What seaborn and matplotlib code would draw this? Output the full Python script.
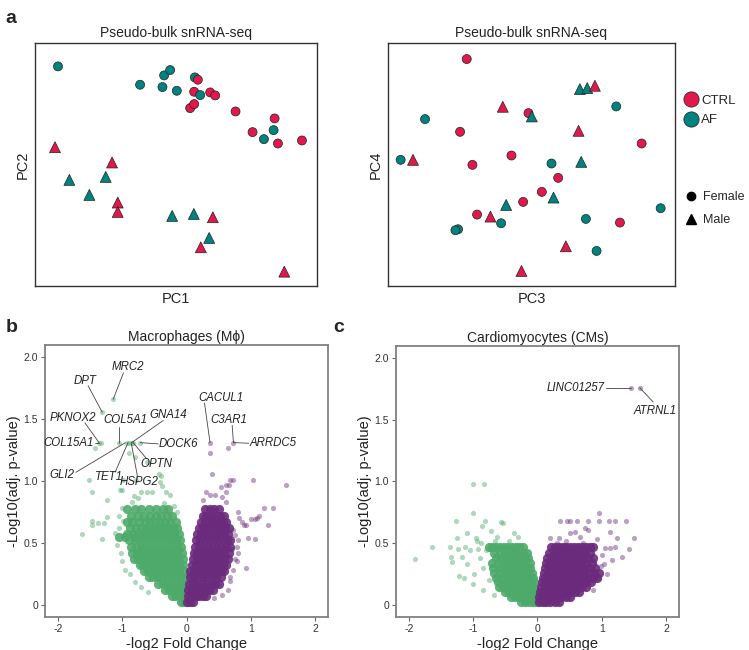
import numpy as np
import pandas as pd
import matplotlib
matplotlib.use("Agg")
import matplotlib.pyplot as plt
from matplotlib.lines import Line2D
import seaborn as sns

# ---------------- PCA data (pseudo-bulk) ----------------
pc1 = [-35.4, -10.8, -4.1, -3.6, -1.8, 0.2, 5.6, 6.5, 5.4, 7.2, 10.2, 11.7, 4.2, 5.4, 17.8, 29.5, 29.2, 22.9, 26.3, 30.5, 37.7,
       -36.3, -19.2, -32.0, -21.1, -26.0, -17.5, -17.5, -1.2, 5.3, 11.0, 9.9, 7.4, 32.4]
pc2 = [29.4, 23.9, 23.2, 26.7, 28.3, 22.1, 26.1, 25.4, 21.8, 20.8, 21.6, 20.7, 16.9, 18.1, 15.9, 13.8, 10.3, 9.7, 7.6, 6.3, 7.2,
       5.2, 0.6, -4.6, -3.7, -9.1, -11.4, -14.2, -15.4, -14.8, -15.8, -22.0, -24.8, -32.1]
group_12 = ["AF", "AF", "AF", "AF", "AF", "AF", "AF", "CTRL", "CTRL", "AF", "CTRL", "CTRL", "CTRL", "CTRL", "CTRL", "CTRL", "AF",
            "CTRL", "AF", "CTRL", "CTRL",
            "CTRL", "CTRL", "AF", "AF", "AF", "CTRL", "CTRL", "AF", "AF", "CTRL", "AF", "CTRL", "CTRL"]
sex_12 = ["Female"] * 21 + ["Male"] * 13

pc3 = [-19.4, 25.4, -0.9, -31.9, -21.4, 33.0, -6.0, -39.2, -17.7, 6.0, 8.0, 3.1, -2.5, 38.7, -16.3, 16.3, -9.1, 26.5, -22.0, -22.8, 19.5,
       14.5, 16.7, 19.0, -8.6, 0.1, 14.1, -35.5, 14.9, 6.6, -7.6, -12.3, 10.3, -3.0]
pc4 = [31.6, 17.4, 15.4, 13.6, 9.8, 6.3, 2.7, 1.4, -0.1, 0.3, -4.0, -8.2, -11.2, -13.1, -15.0, -16.3, -17.6, -17.4, -19.4, -19.7, -25.9,
       22.6, 22.9, 23.6, 17.3, 14.4, 10.1, 1.4, 0.8, -9.9, -12.1, -15.6, -24.5, -31.9]
group_34 = ["CTRL", "AF", "CTRL", "AF", "CTRL", "CTRL", "CTRL", "AF", "CTRL", "AF", "CTRL", "CTRL", "CTRL", "AF", "CTRL", "AF", "AF",
            "CTRL", "AF", "AF", "AF",
            "AF", "AF", "CTRL", "CTRL", "AF", "CTRL", "CTRL", "AF", "AF", "AF", "CTRL", "CTRL", "CTRL"]
sex_34 = ["Female"] * 21 + ["Male"] * 13

# ---------------- Volcano data ----------------
# dense cores: (adj p level, [log2FC values])
mac_down_core = [
    (0.02, [-0.01, -0.05, -0.09]),
    (0.07, [-0.02, -0.07, -0.12, -0.18, -0.23]),
    (0.12, [-0.02, -0.08, -0.14, -0.20, -0.27, -0.34]),
    (0.17, [-0.03, -0.09, -0.16, -0.23, -0.30, -0.37, -0.45]),
    (0.22, [-0.03, -0.10, -0.17, -0.24, -0.31, -0.38, -0.45, -0.52, -0.59]),
    (0.27, [-0.04, -0.11, -0.18, -0.25, -0.32, -0.39, -0.46, -0.53, -0.60, -0.66]),
    (0.32, [-0.05, -0.12, -0.19, -0.26, -0.33, -0.40, -0.47, -0.54, -0.61, -0.68, -0.73]),
    (0.37, [-0.06, -0.13, -0.20, -0.27, -0.34, -0.41, -0.48, -0.55, -0.62, -0.69, -0.76, -0.81]),
    (0.42, [-0.07, -0.14, -0.21, -0.28, -0.35, -0.42, -0.49, -0.56, -0.63, -0.70, -0.77, -0.85]),
    (0.47, [-0.08, -0.15, -0.22, -0.29, -0.36, -0.43, -0.50, -0.57, -0.64, -0.71, -0.78, -0.86]),
    (0.52, [-0.10, -0.17, -0.24, -0.31, -0.38, -0.45, -0.52, -0.59, -0.66, -0.73, -0.80, -0.89]),
    (0.55, [-0.20, -0.35, -0.50, -0.65, -0.80, -0.95, -1.05]),
    (0.57, [-0.12, -0.19, -0.26, -0.33, -0.40, -0.47, -0.54, -0.61, -0.68, -0.75, -0.83, -0.92]),
    (0.62, [-0.14, -0.21, -0.28, -0.35, -0.42, -0.49, -0.56, -0.63, -0.71, -0.79, -0.88]),
    (0.67, [-0.17, -0.25, -0.33, -0.41, -0.49, -0.57, -0.65, -0.74, -0.84, -0.93]),
    (0.72, [-0.22, -0.30, -0.39, -0.47, -0.56, -0.66, -0.75, -0.86]),
    (0.77, [-0.28, -0.37, -0.48, -0.58, -0.70, -0.80, -0.92]),
]
mac_up_core = [
    (0.02, [0.01, 0.05, 0.10]),
    (0.07, [0.02, 0.08, 0.14, 0.20, 0.26, 0.31]),
    (0.12, [0.03, 0.09, 0.15, 0.22, 0.29, 0.35, 0.41]),
    (0.17, [0.04, 0.10, 0.17, 0.24, 0.31, 0.38, 0.45, 0.50]),
    (0.22, [0.05, 0.11, 0.18, 0.25, 0.32, 0.39, 0.46, 0.53]),
    (0.27, [0.06, 0.12, 0.19, 0.26, 0.33, 0.40, 0.47, 0.54, 0.59]),
    (0.32, [0.08, 0.14, 0.21, 0.28, 0.35, 0.42, 0.49, 0.56, 0.62]),
    (0.37, [0.10, 0.16, 0.23, 0.30, 0.37, 0.44, 0.51, 0.58, 0.64]),
    (0.42, [0.11, 0.17, 0.24, 0.31, 0.38, 0.45, 0.52, 0.59, 0.66]),
    (0.47, [0.13, 0.19, 0.26, 0.33, 0.40, 0.47, 0.54, 0.61, 0.67]),
    (0.52, [0.15, 0.21, 0.28, 0.35, 0.42, 0.49, 0.56, 0.63, 0.68]),
    (0.57, [0.17, 0.23, 0.30, 0.37, 0.44, 0.51, 0.58, 0.65]),
    (0.62, [0.19, 0.25, 0.32, 0.39, 0.46, 0.53, 0.60, 0.66]),
    (0.67, [0.22, 0.28, 0.35, 0.42, 0.49, 0.56, 0.62]),
    (0.72, [0.25, 0.31, 0.38, 0.45, 0.52, 0.58]),
    (0.77, [0.29, 0.36, 0.43, 0.50]),
]
cm_down_core = [
    (0.02, [-0.02, -0.07, -0.13, -0.19, -0.25]),
    (0.06, [-0.03, -0.09, -0.15, -0.21, -0.28, -0.35, -0.41]),
    (0.10, [-0.04, -0.10, -0.16, -0.23, -0.30, -0.37, -0.44, -0.51]),
    (0.14, [-0.05, -0.11, -0.18, -0.25, -0.32, -0.39, -0.46, -0.53, -0.60]),
    (0.18, [-0.06, -0.12, -0.19, -0.26, -0.33, -0.40, -0.47, -0.54, -0.62]),
    (0.22, [-0.07, -0.14, -0.21, -0.28, -0.35, -0.42, -0.49, -0.56, -0.64]),
    (0.26, [-0.09, -0.16, -0.23, -0.30, -0.37, -0.44, -0.51, -0.58, -0.67]),
    (0.30, [-0.11, -0.18, -0.25, -0.32, -0.39, -0.46, -0.53, -0.60, -0.69]),
    (0.34, [-0.12, -0.19, -0.26, -0.33, -0.40, -0.47, -0.54, -0.62, -0.70]),
    (0.38, [-0.14, -0.21, -0.28, -0.35, -0.42, -0.49, -0.56, -0.64]),
    (0.42, [-0.16, -0.23, -0.30, -0.37, -0.44, -0.51, -0.59, -0.68]),
    (0.47, [-0.22, -0.28, -0.34, -0.40, -0.46, -0.52, -0.58, -0.64, -0.70, -0.76]),
]
cm_up_core = [
    (0.02, [0.02, 0.08, 0.14, 0.20, 0.27, 0.34]),
    (0.06, [0.03, 0.09, 0.16, 0.23, 0.30, 0.37, 0.44, 0.51]),
    (0.10, [0.04, 0.10, 0.17, 0.24, 0.31, 0.38, 0.45, 0.52, 0.59, 0.65]),
    (0.14, [0.06, 0.12, 0.19, 0.26, 0.33, 0.40, 0.47, 0.54, 0.61, 0.68, 0.75]),
    (0.18, [0.07, 0.13, 0.20, 0.27, 0.34, 0.41, 0.48, 0.55, 0.62, 0.69, 0.76, 0.83]),
    (0.22, [0.08, 0.15, 0.22, 0.29, 0.36, 0.43, 0.50, 0.57, 0.64, 0.71, 0.78, 0.86, 0.93]),
    (0.26, [0.10, 0.17, 0.24, 0.31, 0.38, 0.45, 0.52, 0.59, 0.66, 0.73, 0.80, 0.88, 0.96]),
    (0.30, [0.11, 0.18, 0.25, 0.32, 0.39, 0.46, 0.53, 0.60, 0.67, 0.74, 0.82, 0.90]),
    (0.34, [0.13, 0.20, 0.27, 0.34, 0.41, 0.48, 0.55, 0.62, 0.69, 0.76, 0.84]),
    (0.38, [0.15, 0.22, 0.29, 0.36, 0.43, 0.50, 0.57, 0.64, 0.71, 0.78, 0.86]),
    (0.42, [0.18, 0.25, 0.32, 0.39, 0.46, 0.53, 0.60, 0.67, 0.74, 0.81]),
    (0.47, [0.21, 0.27, 0.33, 0.39, 0.45, 0.51, 0.57, 0.63, 0.69, 0.75, 0.81, 0.86]),
]

# scattered genes outside the cores
mac_down_fc = [-1.14, -1.31, -1.36, -1.33, -1.42, -1.045, -0.93, -0.895, -0.853, -0.83, -0.72, -0.895, -0.80, -0.61,
               -0.42, -0.40, -1.51, -0.98, -0.78, -0.41, -0.38, -1.47, -1.24, -1.035, -1.01, -0.70, -0.61, -0.54, -0.32,
               -0.26, -0.82, -0.85, -0.76, -1.62, -1.47, -1.47, -1.37, -1.29, -1.31, -1.24, -1.11, -1.05, -1.08, -1.02,
               -1.00, -0.95, -0.88, -0.80, -0.70, -0.60, -1.00, -1.05, -0.98, -0.35, -0.20, -0.15]
mac_down_p = [1.66, 1.555, 1.31, 1.31, 1.27, 1.31, 1.31, 1.31, 1.31, 1.31, 1.31, 1.23, 1.19, 1.15,
              1.06, 1.04, 1.01, 1.01, 1.01, 0.99, 0.96, 0.91, 0.85, 0.93, 0.93, 0.91, 0.91, 0.91, 0.91,
              0.89, 0.88, 0.83, 0.86, 0.57, 0.68, 0.64, 0.66, 0.66, 0.53, 0.71, 0.58, 0.62, 0.48, 0.42,
              0.35, 0.28, 0.25, 0.18, 0.14, 0.10, 0.78, 0.72, 0.68, 0.82, 0.80, 0.75]
mac_up_fc = [0.366, 0.366, 0.73, 0.65, 0.39, 0.67, 0.72, 1.03, 1.55, 0.62, 0.66, 0.53, 0.31, 0.37, 0.44, 0.61, 0.26,
             0.55, 0.62, 1.35, 1.21, 1.12, 1.01, 1.07, 1.10, 1.26, 0.80, 0.82, 0.86, 0.90, 0.93, 0.95, 1.07, 0.80,
             0.78, 0.80, 0.76, 0.78, 0.93, 0.68, 0.68, 0.42, 0.72, 0.75, 0.70, 0.72, 0.64, 0.55]
mac_up_p = [1.31, 1.23, 1.31, 1.27, 1.06, 1.01, 1.01, 1.01, 0.97, 0.97, 0.97, 0.95, 0.91, 0.89, 0.89, 0.91, 0.85,
            0.87, 0.83, 0.78, 0.78, 0.72, 0.69, 0.69, 0.70, 0.64, 0.75, 0.70, 0.67, 0.64, 0.64, 0.54, 0.53, 0.52,
            0.47, 0.42, 0.37, 0.35, 0.30, 0.22, 0.19, 0.05, 0.60, 0.56, 0.45, 0.28, 0.12, 0.08]
cm_down_fc = [-1.01, -0.83, -1.01, -1.26, -0.82, -1.90, -1.64, -1.36, -1.24, -1.09, -0.96, -0.94, -0.56, -0.53, -0.36,
              -0.63, -1.25, -1.35, -1.33, -1.18, -1.22, -1.15, -1.00, -0.90, -0.85, -0.80, -0.92, -1.05, -0.75, -0.72,
              -0.66, -0.45, -0.30, -0.85, -0.68, -1.10, -0.98, -1.12, -0.88, -0.86]
cm_down_p = [0.976, 0.976, 0.74, 0.68, 0.68, 0.37, 0.47, 0.47, 0.45, 0.58, 0.54, 0.52, 0.67, 0.66, 0.58,
             0.55, 0.54, 0.39, 0.35, 0.39, 0.23, 0.22, 0.17, 0.38, 0.30, 0.44, 0.45, 0.44, 0.20, 0.60,
             0.52, 0.52, 0.55, 0.12, 0.08, 0.33, 0.25, 0.47, 0.50, 0.64]
cm_up_fc = [1.46, 1.59, 0.35, 0.46, 0.51, 0.61, 0.79, 0.95, 1.11, 1.21, 1.37, 0.95, 0.51, 0.59, 0.20, 0.33, 0.74, 0.78,
            1.13, 1.24, 1.50, 1.42, 1.31, 1.16, 1.03, 0.98, 1.05, 1.12, 1.20, 0.86, 0.92, 0.66, 0.45, 1.00, 0.95, 1.08,
            0.30, 0.70]
cm_up_p = [1.76, 1.76, 0.68, 0.68, 0.68, 0.68, 0.68, 0.68, 0.68, 0.68, 0.68, 0.74, 0.58, 0.59, 0.54, 0.54, 0.62, 0.61,
           0.59, 0.54, 0.54, 0.45, 0.39, 0.36, 0.33, 0.31, 0.46, 0.46, 0.47, 0.12, 0.53, 0.55, 0.52, 0.40, 0.22, 0.25,
           0.50, 0.50]

# labelled genes: name, gene point, text position, alignment
mac_labels = [
    ("MRC2", (-1.14, 1.66), (-0.905, 1.92), "center"),
    ("DPT", (-1.31, 1.555), (-1.58, 1.81), "center"),
    ("PKNOX2", (-1.36, 1.31), (-1.76, 1.51), "center"),
    ("COL15A1", (-1.36, 1.31), (-1.44, 1.31), "right"),
    ("COL5A1", (-1.045, 1.31), (-0.95, 1.49), "center"),
    ("GNA14", (-0.853, 1.31), (-0.28, 1.535), "center"),
    ("DOCK6", (-0.72, 1.31), (-0.43, 1.30), "left"),
    ("OPTN", (-0.83, 1.31), (-0.47, 1.14), "center"),
    ("HSPG2", (-0.86, 1.31), (-0.745, 0.995), "center"),
    ("TET1", (-0.91, 1.31), (-1.20, 1.035), "center"),
    ("GLI2", (-0.95, 1.31), (-1.94, 1.05), "center"),
    ("CACUL1", (0.366, 1.31), (0.53, 1.675), "center"),
    ("C3AR1", (0.73, 1.31), (0.65, 1.495), "center"),
    ("ARRDC5", (0.74, 1.31), (0.98, 1.305), "left"),
]
mac_label_ends = [(-0.98, 1.875), (-1.53, 1.77), (-1.58, 1.47), (-1.43, 1.31), (-1.045, 1.44), (-0.36, 1.49),
                  (-0.44, 1.30), (-0.62, 1.18), (-0.76, 1.03), (-1.11, 1.07), (-1.72, 1.07), (0.28, 1.63),
                  (0.71, 1.45), (0.97, 1.305)]
cm_labels = [
    ("LINC01257", (1.46, 1.76), (1.05, 1.76), "right"),
    ("ATRNL1", (1.59, 1.76), (1.83, 1.575), "center"),
]
cm_label_ends = [(1.07, 1.76), (1.80, 1.645)]

CTRL_COL = "#E0184C"
AF_COL = "#00827E"
GREEN = "#4DAA6A"
PURPLE = "#6B2A7C"


def flatten(rows):
    xs, ys = [], []
    for y, row in rows:
        xs += row
        ys += [y] * len(row)
    return xs, ys


sns.set_style("white")
plt.rcParams["font.family"] = ["Liberation Sans", "DejaVu Sans"]

fig = plt.figure(figsize=(7.49, 6.5), dpi=100)
ax1 = fig.add_axes([0.0467, 0.56, 0.3765, 0.3738])
ax2 = fig.add_axes([0.518, 0.56, 0.3832, 0.3738])
ax3 = fig.add_axes([0.0601, 0.0508, 0.3778, 0.4185])
ax4 = fig.add_axes([0.5287, 0.0508, 0.3778, 0.417])

palette = {"CTRL": CTRL_COL, "AF": AF_COL}
markers = {"Female": "o", "Male": "^"}

df12 = pd.DataFrame({"PC1": pc1, "PC2": pc2, "group": group_12, "sex": sex_12})
df34 = pd.DataFrame({"PC3": pc3, "PC4": pc4, "group": group_34, "sex": sex_34})

for ax, df, xc, yc, xl, yl in [(ax1, df12, "PC1", "PC2", (-42.3, 42.2), (-36.4, 36.4)),
                               (ax2, df34, "PC3", "PC4", (-43.0, 43.0), (-36.4, 36.4))]:
    for sex, sz in [("Female", 42), ("Male", 62)]:
        sub = df[df["sex"] == sex]
        sns.scatterplot(data=sub, x=xc, y=yc, hue="group", palette=palette, marker=markers[sex],
                        s=sz, edgecolor="#222222", linewidth=0.5, legend=False, ax=ax, zorder=3)
    ax.set_xlim(*xl)
    ax.set_ylim(*yl)
    ax.set_xticks([])
    ax.set_yticks([])
    ax.set_title("Pseudo-bulk snRNA-seq", fontsize=10, pad=4, color="#222222")
    ax.set_xlabel(xc, fontsize=10.5, labelpad=4, color="#222222")
    ax.set_ylabel(yc, fontsize=10.5, labelpad=4, color="#222222")
    for sp in ax.spines.values():
        sp.set_color("#333333")
        sp.set_linewidth(1.0)

h1 = [Line2D([], [], marker="o", ls="", markersize=11, markerfacecolor=CTRL_COL, markeredgecolor="#222222",
             markeredgewidth=0.5),
      Line2D([], [], marker="o", ls="", markersize=11, markerfacecolor=AF_COL, markeredgecolor="#222222",
             markeredgewidth=0.5)]
leg1 = ax2.legend(h1, ["CTRL", "AF"], loc="upper left", bbox_to_anchor=(1.0, 0.81), frameon=False,
                  handletextpad=0.0, labelspacing=0.55, borderaxespad=0.0, fontsize=9.5, handlelength=1.6)
ax2.add_artist(leg1)
h2 = [Line2D([], [], marker="o", ls="", markersize=6, color="black"),
      Line2D([], [], marker="^", ls="", markersize=7, color="black")]
ax2.legend(h2, ["Female", "Male"], loc="upper left", bbox_to_anchor=(1.005, 0.41), frameon=False,
           handletextpad=0.1, labelspacing=0.85, borderaxespad=0.0, fontsize=9, handlelength=1.6)

volcano = [
    (ax3, "Macrophages (M\u03d5)", mac_down_core, mac_up_core, (mac_down_fc, mac_down_p), (mac_up_fc, mac_up_p),
     mac_labels, mac_label_ends),
    (ax4, "Cardiomyocytes (CMs)", cm_down_core, cm_up_core, (cm_down_fc, cm_down_p), (cm_up_fc, cm_up_p),
     cm_labels, cm_label_ends),
]
for ax, title, dcore, ucore, dout, uout, labels, ends in volcano:
    for core, col in [(dcore, GREEN), (ucore, PURPLE)]:
        cx, cy = flatten(core)
        sns.scatterplot(x=cx, y=cy, color=col, s=44, alpha=0.9, linewidth=0, ax=ax, zorder=2)
    for (ox, oy), col in [(dout, GREEN), (uout, PURPLE)]:
        sns.scatterplot(x=ox, y=oy, color=col, s=14, alpha=0.45, linewidth=0, ax=ax, zorder=3)
    for (name, pt, txt, ha), end in zip(labels, ends):
        ax.plot([pt[0], end[0]], [pt[1], end[1]], color="#444444", lw=0.6, zorder=4)
        ax.text(txt[0], txt[1], name, ha=ha, va="center", fontsize=8.3, style="italic", color="#222222", zorder=5)
    ax.set_xlim(-2.2, 2.2)
    ax.set_ylim(-0.1, 2.1)
    ax.set_xticks([-2, -1, 0, 1, 2])
    ax.set_xticklabels(["-2", "-1", "0", "1", "2"])
    ax.set_yticks([0, 0.5, 1.0, 1.5, 2.0])
    ax.set_yticklabels(["0", "0.5", "1.0", "1.5", "2.0"])
    ax.tick_params(axis="both", direction="out", length=3, width=0.8, color="#666666", labelsize=7.5,
                   labelcolor="#333333", pad=2, left=True, bottom=True)
    ax.set_title(title, fontsize=10, pad=3, color="#222222")
    ax.set_xlabel("-log2 Fold Change", fontsize=10.5, labelpad=2, color="#222222")
    ax.set_ylabel("-Log10(adj. p-value)", fontsize=10.5, labelpad=2, color="#222222")
    for sp in ax.spines.values():
        sp.set_color("#808080")
        sp.set_linewidth(1.3)

fig.text(0.007, 0.985, "a", fontsize=14, fontweight="bold", va="top")
fig.text(0.007, 0.51, "b", fontsize=14, fontweight="bold", va="top")
fig.text(0.445, 0.51, "c", fontsize=14, fontweight="bold", va="top")

fig.savefig("out.png", dpi=100)
